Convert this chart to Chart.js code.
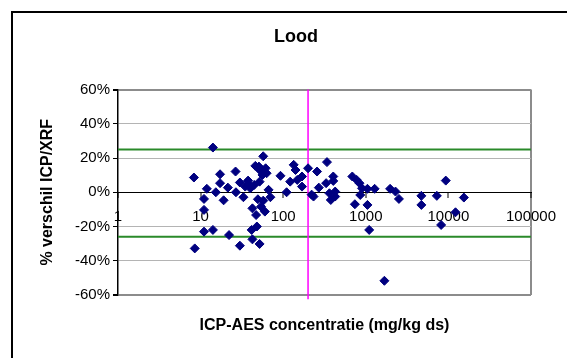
<!DOCTYPE html>
<html>
<head>
<meta charset="utf-8">
<script src="https://cdn.jsdelivr.net/npm/chart.js@4.4.1/dist/chart.umd.min.js"></script>
<style>
  html, body { margin: 0; padding: 0; background: #fff; }
  #wrap { width: 567px; height: 358px; }
</style>
</head>
<body>
<div id="wrap"><canvas id="c" width="567" height="358"></canvas></div>
<script>
// Lood: % verschil ICP/XRF against ICP-AES concentration (log x)
var TITLE = 'Lood';
var X_TITLE = 'ICP-AES concentratie (mg/kg ds)';
var Y_TITLE = '% verschil ICP/XRF';

var conc = [8.3, 8.5, 11, 11, 11.9, 11, 14.1, 14.1, 15.3, 17.2,
    17.2, 19, 21.4, 22.1, 26.5, 26.8, 29.9, 29.9, 33, 34.7,
    37.6, 38.5, 40, 42.4, 41.5, 42.4, 44.6, 46, 47, 48,
    49.4, 50.8, 51.8, 51.8, 52.7, 54, 56.1, 57.3, 57.3, 60,
    61.3, 63, 66.5, 70, 92.7, 110, 121.5, 134, 141, 148,
    169, 169, 200, 221, 233, 257, 270, 331, 339, 363,
    377, 404, 404, 426, 426, 687, 738, 776, 839, 857,
    901, 1047, 1047, 1100, 1280, 1680, 1970, 2290, 2520, 4710,
    4710, 7250, 8170, 9300, 12200, 15400];
var diff = [8.6, -32.8, -10.3, -3.9, 2, -23, 26.1, -22, 0, 10.5,
    5.3, -4.7, 2.7, -25, 12.1, 0, -31.2, 5.7, -2.9, 3.3,
    6.8, 4.7, 2.3, -9.4, -22, -27.5, 4.3, 15.4, -13.3, -20,
    -4.1, 15, -30.2, 6.2, 12.7, -8.4, 10.1, -4.9, 21, -11.3,
    14, 11.1, 1.4, -2.9, 9.6, 0, 6.2, 16, 13, 7.2,
    9.2, 3.3, 14, -1.4, -2.5, 12.1, 2.7, 5.3, 17.6, -0.6,
    -4.5, 9.2, 6.6, 0.4, -2.5, 9.2, -7, 7.2, 5.3, -1.6,
    2.3, 2, -7.4, -22, 2, -51.7, 2, 0.4, -3.9, -2.1,
    -7.4, -2.1, -19.1, 6.8, -11.7, -3.1];

var xTicks = [1, 10, 100, 1000, 10000, 100000];
var yTicks = [-60, -40, -20, 0, 20, 40, 60];
var upperLimit = 25;
var lowerLimit = -26;
var cutoff = 200;

var FONT = '"Liberation Sans", Arial, sans-serif';
Chart.defaults.font.family = FONT;
Chart.defaults.color = '#000';

var points = [];
for (var i = 0; i < conc.length; i++) points.push({ x: conc[i], y: diff[i] });

var xMin = xTicks[0], xMax = xTicks[xTicks.length - 1];
var yMin = yTicks[0], yMax = yTicks[yTicks.length - 1];

var frameAndText = {
    id: 'frameAndText',
    beforeDraw: function (chart) {
        var ctx = chart.ctx;
        ctx.save();
        ctx.fillStyle = '#fff';
        ctx.fillRect(0, 0, chart.width, chart.height);
        ctx.strokeStyle = '#000';
        ctx.lineWidth = 2;
        ctx.beginPath();
        ctx.moveTo(12, chart.height + 2);
        ctx.lineTo(12, 12);
        ctx.lineTo(chart.width + 2, 12);
        ctx.stroke();
        ctx.restore();
    },
    afterDraw: function (chart) {
        var a = chart.chartArea, ctx = chart.ctx;
        ctx.save();
        ctx.fillStyle = '#000';
        ctx.textAlign = 'center';
        ctx.textBaseline = 'middle';
        ctx.font = 'bold 18px ' + FONT;
        ctx.fillText(TITLE, 296, 37);
        ctx.font = 'bold 16px ' + FONT;
        ctx.fillText(X_TITLE, (a.left + a.right) / 2, 326);
        ctx.translate(48, (a.top + a.bottom) / 2);
        ctx.rotate(-Math.PI / 2);
        ctx.fillText(Y_TITLE, 0, 0);
        ctx.restore();
    }
};

function hline(v, color) {
    return {
        data: [{ x: xMin, y: v }, { x: xMax, y: v }],
        showLine: true, borderColor: color, borderWidth: 2, pointRadius: 0
    };
}

new Chart(document.getElementById('c'), {
    type: 'scatter',
    data: {
        datasets: [
            {
                data: points,
                pointStyle: 'rectRot',
                pointRadius: 4.5,
                backgroundColor: '#000080',
                borderColor: '#000080',
                borderWidth: 1
            },
            {
                data: [{ x: cutoff, y: yMin - 2.5 }, { x: cutoff, y: yMax }],
                showLine: true, borderColor: '#ff00ff', borderWidth: 1.5, pointRadius: 0, clip: false
            },
            hline(upperLimit, '#2a8a2a'),
            hline(lowerLimit, '#2a8a2a')
        ]
    },
    options: {
        responsive: false,
        animation: false,
        devicePixelRatio: 1,
        layout: { padding: { left: 0, top: 89.5, right: 34, bottom: 63 } },
        plugins: {
            legend: { display: false },
            tooltip: { enabled: false }
        },
        scales: {
            x: {
                type: 'logarithmic',
                position: { y: 0 },
                min: xMin,
                max: xMax,
                afterBuildTicks: function (s) {
                    s.ticks = xTicks.map(function (v) { return { value: v }; });
                },
                ticks: {
                    color: '#000',
                    font: { size: 15 },
                    padding: 11,
                    maxRotation: 0,
                    autoSkip: false,
                    callback: function (v) { return String(v); }
                },
                grid: {
                    color: function (c) { return c.tick && c.tick.value === xMax ? '#8c8c8c' : 'rgba(0,0,0,0)'; },
                    lineWidth: 2,
                    tickColor: '#000',
                    tickWidth: 1,
                    tickLength: 5
                },
                border: { color: '#000', width: 1 }
            },
            y: {
                min: yMin,
                max: yMax,
                afterBuildTicks: function (s) {
                    s.ticks = yTicks.map(function (v) { return { value: v }; });
                },
                afterFit: function (s) { s.width = 118; },
                ticks: {
                    color: '#000',
                    font: { size: 15 },
                    padding: 3,
                    callback: function (v) { return v + '%'; }
                },
                grid: {
                    color: function (c) {
                        var v = c.tick ? c.tick.value : null;
                        if (v === 0) return 'rgba(0,0,0,0)';
                        if (v === yMin || v === yMax) return '#8c8c8c';
                        return '#b4b4b4';
                    },
                    lineWidth: function (c) {
                        var v = c.tick ? c.tick.value : null;
                        return (v === yMin || v === yMax) ? 2 : 1;
                    },
                    tickColor: '#000',
                    tickLength: 5
                },
                border: { color: '#000', width: 1.5 }
            }
        }
    },
    plugins: [frameAndText]
});
</script>
</body>
</html>
